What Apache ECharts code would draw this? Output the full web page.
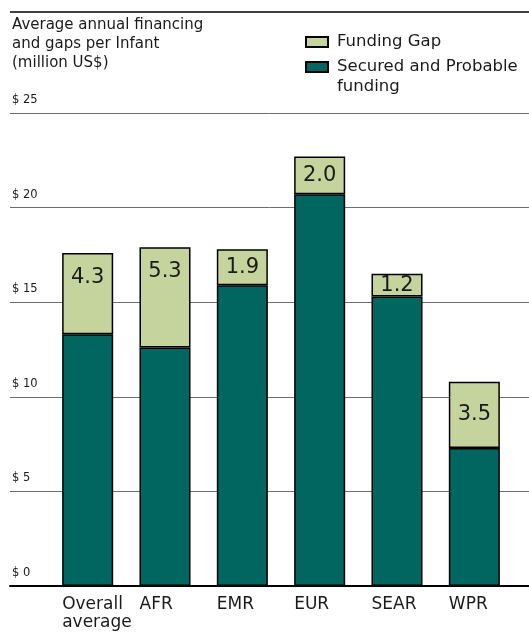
<!DOCTYPE html>
<html>
<head>
<meta charset="utf-8">
<script src="https://cdn.jsdelivr.net/npm/echarts@6/dist/echarts.min.js"></script>
<style>
html,body{margin:0;padding:0;background:#fff;}
#chart{width:529px;height:632px;}
</style>
</head>
<body>
<div id="chart"></div>
<script>
const categories = ['Overall\naverage', 'AFR', 'EMR', 'EUR', 'SEAR', 'WPR'];
const securedFunding = [13.3, 12.6, 15.9, 20.7, 15.3, 7.3];
const fundingGap = [4.3, 5.3, 1.9, 2.0, 1.2, 3.5];
const yTicks = [0, 5, 10, 15, 20, 25];

const FONT = '"DejaVu Sans", "Open Sans", sans-serif';
const DARK = '#00665F';
const LIGHT = '#C5D49C';
const TEXT = '#1a1a1a';

const chart = echarts.init(document.getElementById('chart'));

const gapData = fundingGap.map(v => ({
  value: v,
  label: v >= 4 ? { position: 'insideTop', distance: 14 } : { position: 'inside' }
}));

chart.setOption({
  animation: false,
  textStyle: { fontFamily: FONT, color: TEXT },
  graphic: [
    { type: 'line', shape: { x1: 10, y1: 12, x2: 529, y2: 12 }, style: { stroke: '#000', lineWidth: 1.5 }, z: 10 },
    { type: 'text', left: 12, top: 15.5, style: { text: 'Average annual financing\nand gaps per Infant\n(million US$)', font: '15px ' + FONT, fill: TEXT, lineHeight: 19 } }
  ],
  legend: [
    {
      left: 305, top: 32, padding: 0, orient: 'vertical', itemWidth: 22, itemHeight: 10,
      data: ['Funding Gap'], icon: 'rect',
      textStyle: { fontSize: 16.5, color: TEXT, fontFamily: FONT, lineHeight: 20, padding: [0, 0, 0, 4] }
    },
    {
      left: 305, top: 37, padding: 0, orient: 'vertical', itemWidth: 22, itemHeight: 10,
      data: ['Secured and Probable\nfunding'], icon: 'rect',
      formatter: name => '\n' + name,
      textStyle: { fontSize: 16.5, color: TEXT, fontFamily: FONT, lineHeight: 20, padding: [0, 0, 0, 4] }
    }
  ],
  grid: [
    { left: 10, right: 0, top: 113, bottom: 46, containLabel: false, outerBoundsMode: 'none' },
    { left: 49, right: 16, top: 113, bottom: 46, containLabel: false, outerBoundsMode: 'none' }
  ],
  xAxis: [
    { type: 'category', gridIndex: 0, data: categories, axisLine: { show: true, lineStyle: { color: '#000', width: 2 } }, axisTick: { show: false }, axisLabel: { show: false } },
    {
      type: 'category', gridIndex: 1, data: categories,
      axisLine: { show: false }, axisTick: { show: false },
      axisLabel: {
        interval: 0, margin: 10, fontSize: 17, color: TEXT, fontFamily: FONT, lineHeight: 18,
        formatter: v => v.split('\n').map(l => '{a|' + l + '}').join('\n'),
        rich: { a: { width: 51, align: 'left', fontSize: 17, lineHeight: 18, fontFamily: FONT, color: TEXT } }
      }
    }
  ],
  yAxis: [
    {
      type: 'value', gridIndex: 0, min: yTicks[0], max: yTicks[yTicks.length - 1], interval: 5,
      axisLine: { show: false }, axisTick: { show: false },
      splitLine: { show: true, lineStyle: { color: '#6e6e6e', width: 1 } },
      axisLabel: {
        inside: true, margin: 2, verticalAlign: 'bottom', padding: [0, 0, 7, 0],
        fontSize: 11.5, color: TEXT, fontFamily: FONT,
        formatter: v => '$ ' + v
      }
    },
    { type: 'value', gridIndex: 1, min: yTicks[0], max: yTicks[yTicks.length - 1], interval: 5, show: false }
  ],
  series: [
    {
      name: 'Secured and Probable\nfunding', type: 'bar', stack: 'total', xAxisIndex: 1, yAxisIndex: 1,
      data: securedFunding, barCategoryGap: '34%',
      itemStyle: { color: DARK, borderColor: '#000', borderWidth: 1.5 }
    },
    {
      name: 'Funding Gap', type: 'bar', stack: 'total', xAxisIndex: 1, yAxisIndex: 1,
      data: gapData, barCategoryGap: '34%',
      itemStyle: { color: LIGHT, borderColor: '#000', borderWidth: 1.5 },
      label: { show: true, fontSize: 21, color: TEXT, fontFamily: FONT, formatter: p => p.value.toFixed(1) }
    }
  ]
});
</script>
</body>
</html>
